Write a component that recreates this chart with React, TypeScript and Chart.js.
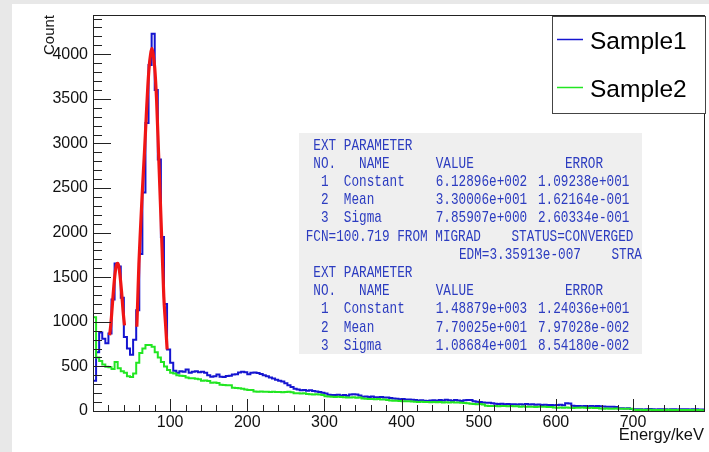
import React, { useEffect, useRef } from 'react';
import { Chart, registerables } from 'chart.js';

Chart.register(...registerables);

// ---------- data ----------
const BIN_WIDTH = 4; // keV per histogram bin
const X_MIN = 0;
const X_MAX = 792;
const Y_MIN = 0;
const Y_MAX = 4440;

const X_TICKS = [100, 200, 300, 400, 500, 600, 700];
const Y_TICKS = [0, 500, 1000, 1500, 2000, 2500, 3000, 3500, 4000];
const X_MINOR_STEP = 20;
const Y_MINOR_STEP = 100;

const SERIES_NAMES = ['Sample1', 'Sample2'];

// Sample1 counts per 4 keV bin, starting at 0 keV
const SAMPLE1 = [
  340, 660, 880, 810, 760, 870, 1250, 1655, 1620, 1270,
  830, 700, 630, 800, 1130, 1760, 2450, 3230, 3880, 4230,
  3600, 2820, 1950, 1200, 690, 540, 450, 430, 445, 440,
  465, 430, 440, 445, 435, 440, 430, 400, 385, 390,
  410, 385, 380, 392, 395, 410, 412, 433, 440, 435,
  412, 430, 433, 425, 414, 400, 390, 375, 365, 350,
  340, 330, 310, 290, 268, 250, 240, 232, 236, 228,
  232, 225, 218, 212, 205, 195, 182, 180, 178, 182,
  175, 180, 172, 185, 188, 186, 175, 160, 162, 158,
  162, 155, 153, 156, 150, 152, 145, 140, 138, 132,
  135, 128, 130, 125, 122, 118, 120, 116, 112, 118,
  120, 115, 122, 118, 125, 120, 116, 122, 118, 112,
  120, 124, 123, 110, 104, 100, 95, 93, 92, 88,
  80, 78, 82, 76, 78, 75, 77, 72, 76, 74,
  78, 72, 75, 70, 73, 68, 70, 66, 68, 65,
  67, 70, 64, 86, 84, 58, 55, 57, 54, 56,
  52, 55, 54, 56, 52, 50, 48, 47, 49, 46,
  32, 30, 28, 30, 22, 20, 19, 21, 18, 20,
  22, 19, 18, 20, 21, 19, 18, 20, 19, 18,
  20, 19, 21, 18, 19, 20, 18, 17,
];

// Sample2 counts per 4 keV bin, starting at 0 keV
const SAMPLE2 = [
  1050, 600, 560, 520, 495, 490, 470, 550, 480, 445,
  430, 390, 380, 420, 540, 650, 700, 740, 740, 720,
  660, 600, 550, 500, 460, 430, 420, 400, 395, 392,
  375, 366, 368, 362, 355, 340, 342, 335, 318, 320,
  315, 295, 292, 290, 288, 262, 258, 255, 250, 240,
  236, 235, 218, 216, 220, 215, 217, 214, 216, 212,
  214, 210, 212, 215, 210, 200, 198, 196, 198, 192,
  188, 186, 188, 184, 180, 165, 162, 160, 158, 160,
  156, 155, 152, 150, 154, 148, 150, 140, 136, 134,
  135, 132, 134, 130, 128, 124, 118, 116, 115, 112,
  110, 108, 110, 106, 105, 102, 104, 100, 102, 98,
  100, 98, 100, 96, 98, 95, 97, 94, 96, 92,
  90, 86, 80, 78, 76, 78, 74, 58, 56, 55,
  57, 54, 56, 55, 53, 55, 54, 52, 48, 50,
  47, 49, 48, 46, 48, 47, 49, 46, 45, 38,
  37, 39, 36, 38, 37, 35, 37, 36, 38, 36,
  35, 37, 34, 33, 27, 26, 28, 25, 26, 27,
  25, 26, 24, 25, 24, 13, 12, 14, 11, 12,
  13, 11, 12, 10, 12, 11, 13, 11, 10, 12,
  11, 10, 12, 11, 10, 11, 10, 9,
];

// Fit curves (energy keV, count)
const FIT1_E = [21.5, 23, 25, 27, 29, 30.5, 32, 33.5, 35, 37, 39, 40.8];
const FIT1_C = [850, 960, 1180, 1400, 1570, 1640, 1655, 1620, 1520, 1340, 1120, 960];
const FIT2_E = [56.8, 58, 59.5, 61.5, 63.7, 66.7, 69, 71, 73, 74.5, 76.3, 78, 80, 82.5, 85, 87.3, 89.5, 91.8, 94, 96.1];
const FIT2_C = [945, 1250, 1650, 2030, 2420, 2900, 3300, 3630, 3880, 3990, 4065, 4000, 3850, 3470, 2890, 2350, 1830, 1280, 980, 690];

// Fit-result text block
const FIT_LINES: string[][] = [
  [' EXT PARAMETER'],
  [' NO.   NAME', 'VALUE', 'ERROR'],
  ['  1  Constant', '6.12896e+002', '1.09238e+001'],
  ['  2  Mean', '3.30006e+001', '1.62164e-001'],
  ['  3  Sigma', '7.85907e+000', '2.60334e-001'],
  ['FCN=100.719 FROM MIGRAD    STATUS=CONVERGED'],
  ['EDM=3.35913e-007    STRATEGY= 1'],
  [' EXT PARAMETER'],
  [' NO.   NAME', 'VALUE', 'ERROR'],
  ['  1  Constant', '1.48879e+003', '1.24036e+001'],
  ['  2  Mean', '7.70025e+001', '7.97028e-002'],
  ['  3  Sigma', '1.08684e+001', '8.54180e-002'],
];

// ---------- styling / layout ----------
const COLORS = ['#1515d0', '#22e622'];
const FIT_COLOR = '#f01515';
const CANVAS_W = 697;
const CANVAS_H = 448;
const SANS = '"Liberation Sans", Arial, sans-serif';
const MONO = '"Liberation Mono", monospace';

const BOX = { x: 287, y: 129, w: 343, h: 221 };
const TEXT_COL0 = 293.7;
const TEXT_VALUE = 423.7;
const TEXT_ERR = 526;
const TEXT_ERR_HDR = 553;
const TEXT_EDM = 447;
const TEXT_Y0 = 141;
const TEXT_DY = 18.2;
const TEXT_SIZE = 17;

function histPoints(counts: number[]) {
  const pts = counts.map((c, i) => ({ x: X_MIN + i * BIN_WIDTH, y: c }));
  pts.push({ x: X_MIN + counts.length * BIN_WIDTH, y: counts[counts.length - 1] });
  return pts;
}

function curvePoints(xs: number[], ys: number[]) {
  return xs.map((x, i) => ({ x, y: ys[i] }));
}

const rootAxesPlugin = {
  id: 'rootAxes',
  afterDatasetsDraw(chart: any) {
    const { ctx, chartArea: a, scales } = chart;
    const xs = scales.x;
    const ys = scales.y;
    ctx.save();
    ctx.strokeStyle = '#222';
    ctx.lineWidth = 1;
    ctx.beginPath();
    for (let v = Y_MIN + Y_MINOR_STEP; v <= Y_MAX; v += Y_MINOR_STEP) {
      const py = Math.round(ys.getPixelForValue(v)) + 0.5;
      const len = Y_TICKS.includes(v) ? 18 : 9;
      ctx.moveTo(a.left, py);
      ctx.lineTo(a.left + len, py);
    }
    for (let v = X_MIN + X_MINOR_STEP; v < X_MAX; v += X_MINOR_STEP) {
      const px = Math.round(xs.getPixelForValue(v)) + 0.5;
      const len = X_TICKS.includes(v) ? 12 : 6;
      ctx.moveTo(px, a.bottom);
      ctx.lineTo(px, a.bottom - len);
    }
    ctx.stroke();
    ctx.strokeRect(Math.round(a.left) + 0.5, Math.round(a.top) + 0.5,
      Math.round(a.right - a.left), Math.round(a.bottom - a.top));
    ctx.restore();
  },
  afterDraw(chart: any) {
    const { ctx } = chart;
    ctx.save();
    // fit result box
    ctx.fillStyle = '#efefef';
    ctx.fillRect(BOX.x, BOX.y, BOX.w, BOX.h);
    ctx.beginPath();
    ctx.rect(BOX.x, BOX.y, BOX.w, BOX.h);
    ctx.clip();
    ctx.fillStyle = '#2c3cc0';
    ctx.font = `${TEXT_SIZE}px ${MONO}`;
    ctx.textBaseline = 'middle';
    ctx.textAlign = 'left';
    const sx = 7.62 / (TEXT_SIZE * 0.6);
    FIT_LINES.forEach((parts, i) => {
      const y = TEXT_Y0 + i * TEXT_DY;
      let cols: number[];
      if (parts[0].startsWith('EDM')) cols = [TEXT_EDM];
      else if (parts[1] === 'VALUE') cols = [TEXT_COL0, TEXT_VALUE, TEXT_ERR_HDR];
      else cols = [TEXT_COL0, TEXT_VALUE, TEXT_ERR];
      parts.forEach((t, j) => {
        ctx.save();
        ctx.translate(cols[j], y);
        ctx.scale(sx, 1);
        ctx.fillText(t, 0, 0);
        ctx.restore();
      });
    });
    ctx.restore();

    // legend
    ctx.save();
    ctx.fillStyle = '#ffffff';
    ctx.fillRect(540, 12, 153, 97);
    ctx.strokeStyle = '#444';
    ctx.lineWidth = 1;
    ctx.strokeRect(540.5, 12.5, 153, 97);
    const ds = chart.data.datasets;
    ctx.font = `24.5px ${SANS}`;
    ctx.textBaseline = 'middle';
    ctx.fillStyle = '#000';
    [35, 83].forEach((ly, i) => {
      ctx.strokeStyle = ds[i].borderColor;
      ctx.lineWidth = 1.5;
      ctx.beginPath();
      ctx.moveTo(545, ly + 0.5);
      ctx.lineTo(571, ly + 0.5);
      ctx.stroke();
      ctx.fillText(ds[i].label, 578, ly + 3);
    });
    ctx.restore();
  },
};

export default function App() {
  const ref = useRef<HTMLCanvasElement | null>(null);

  useEffect(() => {
    if (!ref.current) return;
    const chart = new Chart(ref.current, {
      type: 'line',
      data: {
        datasets: [
          {
            label: SERIES_NAMES[0],
            data: histPoints(SAMPLE1),
            borderColor: COLORS[0],
            borderWidth: 2,
            stepped: true,
            pointRadius: 0,
            fill: false,
            order: 3,
          },
          {
            label: SERIES_NAMES[1],
            data: histPoints(SAMPLE2),
            borderColor: COLORS[1],
            borderWidth: 2,
            stepped: true,
            pointRadius: 0,
            fill: false,
            order: 2,
          },
          {
            label: 'fit1',
            data: curvePoints(FIT1_E, FIT1_C),
            borderColor: FIT_COLOR,
            borderWidth: 3.2,
            cubicInterpolationMode: 'monotone',
            pointRadius: 0,
            fill: false,
            order: 1,
          },
          {
            label: 'fit2',
            data: curvePoints(FIT2_E, FIT2_C),
            borderColor: FIT_COLOR,
            borderWidth: 3.2,
            cubicInterpolationMode: 'monotone',
            pointRadius: 0,
            fill: false,
            order: 1,
          },
        ] as any,
      },
      options: {
        animation: false,
        responsive: false,
        devicePixelRatio: 1,
        layout: { padding: { top: 11, right: 5, left: 0, bottom: 0 } },
        plugins: {
          legend: { display: false },
          tooltip: { enabled: false },
        },
        scales: {
          x: {
            type: 'linear',
            min: X_MIN,
            max: X_MAX,
            grid: { display: false, drawTicks: false },
            border: { display: false },
            ticks: {
              padding: 1.5,
              color: '#111',
              font: { family: SANS, size: 16 },
              maxRotation: 0,
              autoSkip: false,
              callback: (v: any) => String(v),
            },
            afterBuildTicks: (s: any) => { s.ticks = X_TICKS.map((v) => ({ value: v })); },
            afterFit: (s: any) => {
              s.height = 41;
              s.paddingLeft = 0; s.paddingRight = 0; s.paddingTop = 0; s.paddingBottom = 0;
            },
            title: {
              display: true,
              text: 'Energy/keV',
              align: 'end',
              color: '#111',
              font: { family: SANS, size: 16.5 },
              padding: { top: 0, bottom: 6.5 },
            },
          },
          y: {
            type: 'linear',
            min: Y_MIN,
            max: Y_MAX,
            grid: { display: false, drawTicks: false },
            border: { display: false },
            ticks: {
              padding: 5,
              color: '#111',
              font: { family: SANS, size: 16 },
              autoSkip: false,
              callback: (v: any) => String(v),
            },
            afterBuildTicks: (s: any) => { s.ticks = Y_TICKS.map((v) => ({ value: v })); },
            afterFit: (s: any) => {
              s.width = 81;
              s.paddingLeft = 0; s.paddingRight = 0; s.paddingTop = 0; s.paddingBottom = 0;
            },
            title: {
              display: true,
              text: 'Count',
              align: 'end',
              color: '#111',
              font: { family: SANS, size: 15 },
              padding: { top: 29, bottom: 0 },
            },
          },
        },
      } as any,
      plugins: [rootAxesPlugin],
    });
    return () => chart.destroy();
  }, []);

  return (
    <div style={{ position: 'fixed', inset: 0, background: '#e8e8e8' }}>
      <div style={{ position: 'absolute', left: 12, top: 4, width: CANVAS_W, height: CANVAS_H, background: '#fff' }}>
        <canvas ref={ref} width={CANVAS_W} height={CANVAS_H} style={{ display: 'block' }} />
      </div>
    </div>
  );
}
